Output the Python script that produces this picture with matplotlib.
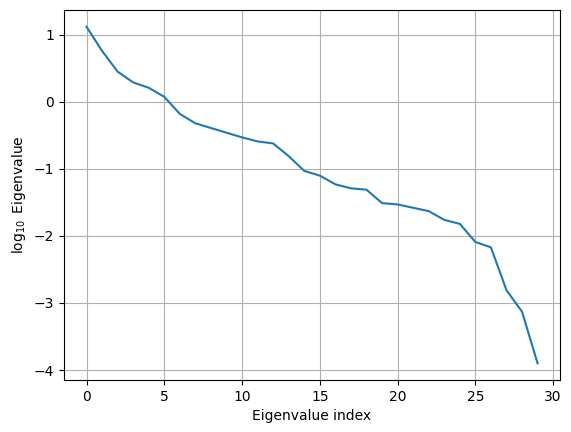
import matplotlib
matplotlib.use("Agg")
import matplotlib.pyplot as plt
import numpy as np

log_eigenvalues = [1.12, 0.76, 0.45, 0.29, 0.21, 0.075, -0.18, -0.32, -0.39, -0.46,
                   -0.53, -0.59, -0.62, -0.81, -1.03, -1.10, -1.23, -1.29, -1.31, -1.51,
                   -1.53, -1.58, -1.63, -1.76, -1.82, -2.09, -2.17, -2.81, -3.13, -3.90]
indices = list(range(len(log_eigenvalues)))

fig = plt.figure(figsize=(5.71, 4.32), dpi=100)
ax = fig.add_axes([0.112, 0.120, 0.869, 0.857])
ax.plot(indices, log_eigenvalues, color="#1f77b4")
ax.grid(True)
ax.set_xlabel("Eigenvalue index")
ax.set_ylabel(r"$\log_{10}$ Eigenvalue")
fig.savefig("out.png", dpi=100)
